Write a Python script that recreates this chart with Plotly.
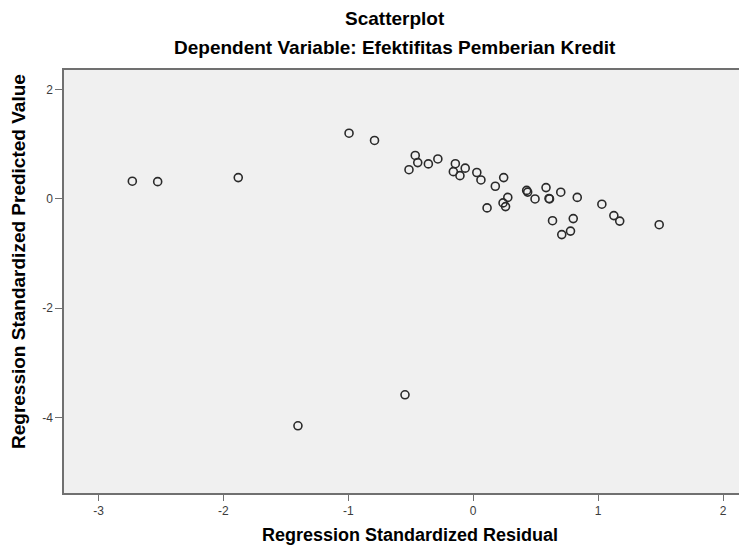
import plotly.graph_objects as go

# Regression Standardized Residual (x) and Regression Standardized Predicted Value (y)
residual = [-2.729, -2.526, -1.881, -0.994, -0.790, -0.464, -0.444, -0.514, -0.359, -0.283,
            -0.143, -0.159, -0.106, -0.064, 0.029, 0.062, 0.177, 0.244, 0.111, 0.239,
            0.259, 0.277, 0.428, 0.436, 0.495, 0.583, 0.607, 0.611, 0.701, 0.833,
            0.635, 0.801, 0.709, 0.779, 1.030, 1.126, 1.173, 1.489, -0.546, -1.403]
predicted = [0.320, 0.312, 0.386, 1.197, 1.065, 0.791, 0.660, 0.530, 0.636, 0.727,
             0.640, 0.495, 0.422, 0.559, 0.479, 0.343, 0.228, 0.386, -0.168, -0.077,
             -0.144, 0.024, 0.152, 0.121, -0.004, 0.203, 0.005, -0.004, 0.119, 0.024,
             -0.402, -0.364, -0.656, -0.592, -0.100, -0.309, -0.409, -0.475, -3.585, -4.151]

x_ticks = [-3, -2, -1, 0, 1, 2]
y_ticks = [2, 0, -2, -4]

title_main = "Scatterplot"
title_sub = "Dependent Variable: Efektifitas Pemberian Kredit"
x_title = "Regression Standardized Residual"
y_title = "Regression Standardized Predicted Value"

FONT = "Liberation Sans, Arial, sans-serif"
OFF = 8  # page body margin
W, H = 747 - OFF, 548 - OFF
ML, MR, MT, MB = 64 - OFF, 0, 70 - OFF, 548 - 493

fig = go.Figure()
fig.add_trace(go.Scatter(
    x=residual, y=predicted, mode="markers",
    marker=dict(symbol="circle-open", size=8, color="#2a2a2a", line=dict(width=1.6, color="#2a2a2a")),
    showlegend=False, hoverinfo="x+y",
))

def px_x(px):
    return (px - OFF - ML) / (W - ML - MR)

def px_y(py):
    return (H - MB - (py - OFF)) / (H - MT - MB)

fig.update_layout(
    width=W, height=H,
    margin=dict(l=ML, r=MR, t=MT, b=MB),
    paper_bgcolor="white",
    plot_bgcolor="#f0f0f0",
    font=dict(family=FONT, color="#000000"),
    annotations=[
        dict(text="<b>" + title_main + "</b>", xref="paper", yref="paper",
             x=px_x(395), y=px_y(19), showarrow=False, borderpad=0,
             font=dict(size=19, family=FONT, color="#000"), xanchor="center", yanchor="middle"),
        dict(text="<b>" + title_sub + "</b>", xref="paper", yref="paper",
             x=px_x(395), y=px_y(47), showarrow=False, borderpad=0,
             font=dict(size=19, family=FONT, color="#000"), xanchor="center", yanchor="middle"),
        dict(text="<b>" + x_title + "</b>", xref="paper", yref="paper",
             x=px_x(410), y=px_y(535), showarrow=False,
             font=dict(size=18, family=FONT, color="#000"), xanchor="center", yanchor="middle"),
        dict(text="<b>" + y_title + "</b>", xref="paper", yref="paper",
             x=px_x(18), y=px_y(262), showarrow=False, textangle=-90,
             font=dict(size=19, family=FONT, color="#000"), xanchor="center", yanchor="middle"),
    ],
)

fig.update_xaxes(
    range=[-3.276, 2.192], tickvals=x_ticks, ticktext=[str(v) for v in x_ticks],
    showgrid=False, zeroline=False, automargin=False,
    showline=True, linecolor="#707070", linewidth=1.5, mirror=True,
    ticks="outside", ticklen=6, tickcolor="#707070", tickwidth=1,
    tickfont=dict(size=12, color="#3c3c3c", family=FONT),
)
fig.update_yaxes(
    range=[-5.38, 2.353], tickvals=y_ticks, ticktext=[str(v) for v in y_ticks],
    showgrid=False, zeroline=False, automargin=False,
    showline=True, linecolor="#707070", linewidth=1.5, mirror=False,
    ticks="outside", ticklen=7, tickcolor="#707070", tickwidth=1,
    tickfont=dict(size=12, color="#3c3c3c", family=FONT),
)

fig.write_html("out.html")
